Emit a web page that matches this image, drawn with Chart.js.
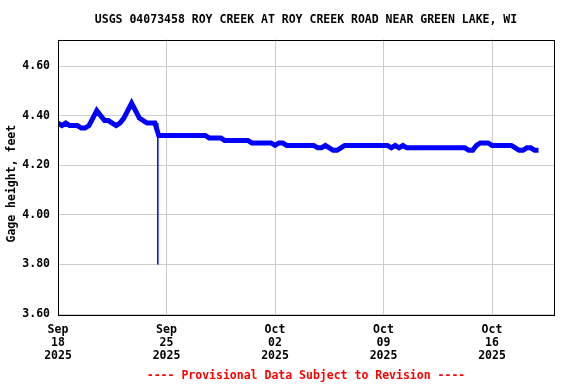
<!DOCTYPE html>
<html>
<head>
<meta charset="utf-8">
<script src="https://cdn.jsdelivr.net/npm/chart.js@4.4.1/dist/chart.umd.min.js"></script>
<style>
  body { margin: 0; background: #fff; }
</style>
</head>
<body>
<canvas id="gageChart" width="576" height="384"></canvas>
<script>
const chartTitle = 'USGS 04073458 ROY CREEK AT ROY CREEK ROAD NEAR GREEN LAKE, WI';
const footerText = '---- Provisional Data Subject to Revision ----';
const yAxisLabel = 'Gage height, feet  ';

// gage height, one reading every 6 hours starting Sep 18 2025 00:00
const stepDays = 0.25;
const gageHeight = [
  4.37, 4.36, 4.37, 4.36, 4.36, 4.36, 4.35, 4.35, 4.36, 4.39,
  4.42, 4.40, 4.38, 4.38, 4.37, 4.36, 4.37, 4.39, 4.42, 4.45,
  4.42, 4.39, 4.38, 4.37, 4.37, 4.37, 4.32, 4.32, 4.32, 4.32,
  4.32, 4.32, 4.32, 4.32, 4.32, 4.32, 4.32, 4.32, 4.32, 4.31,
  4.31, 4.31, 4.31, 4.30, 4.30, 4.30, 4.30, 4.30, 4.30, 4.30,
  4.29, 4.29, 4.29, 4.29, 4.29, 4.29, 4.28, 4.29, 4.29, 4.28,
  4.28, 4.28, 4.28, 4.28, 4.28, 4.28, 4.28, 4.27, 4.27, 4.28,
  4.27, 4.26, 4.26, 4.27, 4.28, 4.28, 4.28, 4.28, 4.28, 4.28,
  4.28, 4.28, 4.28, 4.28, 4.28, 4.28, 4.27, 4.28, 4.27, 4.28,
  4.27, 4.27, 4.27, 4.27, 4.27, 4.27, 4.27, 4.27, 4.27, 4.27,
  4.27, 4.27, 4.27, 4.27, 4.27, 4.27, 4.26, 4.26, 4.28, 4.29,
  4.29, 4.29, 4.28, 4.28, 4.28, 4.28, 4.28, 4.28, 4.27, 4.26,
  4.26, 4.27, 4.27, 4.26, 4.26
];

// the single low reading on Sep 24
const dropDays = [6.44, 6.44];
const dropLevels = [4.37, 3.80];

const xTickDays = [0, 7, 14, 21, 28];
const xTickLabels = [
  ['Sep', '18', '2025'],
  ['Sep', '25', '2025'],
  ['Oct', '02', '2025'],
  ['Oct', '09', '2025'],
  ['Oct', '16', '2025']
];
const yTicks = [3.6, 3.8, 4.0, 4.2, 4.4, 4.6];

const mono = 'DejaVu Sans Mono';

const mainPoints = gageHeight.map((v, i) => ({ x: i * stepDays, y: v }));
const dropPoints = dropDays.map((d, i) => ({ x: d, y: dropLevels[i] }));

// black frame round the plot area
const frame = {
  id: 'frame',
  afterDatasetsDraw(chart) {
    const { ctx, chartArea: a } = chart;
    ctx.save();
    ctx.strokeStyle = '#000';
    ctx.lineWidth = 1;
    ctx.strokeRect(Math.round(a.left) + 0.5, Math.round(a.top) + 0.5,
      Math.round(a.right - a.left), Math.round(a.bottom - a.top));
    ctx.restore();
  }
};

const ctx = document.getElementById('gageChart').getContext('2d');
new Chart(ctx, {
  type: 'line',
  data: {
    datasets: [
      {
        data: mainPoints,
        borderColor: '#0000ff',
        borderWidth: 5,
        pointRadius: 0,
        tension: 0,
        fill: false
      },
      {
        data: dropPoints,
        borderColor: '#0000ff',
        borderWidth: 1.5,
        pointRadius: 0,
        fill: false
      }
    ]
  },
  options: {
    responsive: false,
    animation: false,
    layout: { padding: { left: 0, right: 22, top: 0, bottom: 0 } },
    plugins: {
      legend: { display: false },
      tooltip: { enabled: false },
      title: {
        display: true,
        text: chartTitle,
        fullSize: false,
        color: '#000',
        font: { family: mono, weight: 'bold', size: 11.5 },
        padding: { top: 13, bottom: 12.7 }
      },
      subtitle: {
        display: true,
        text: footerText,
        position: 'bottom',
        fullSize: false,
        color: '#ff0000',
        font: { family: mono, weight: 'bold', size: 11.5 },
        padding: { top: 4, bottom: 1 }
      }
    },
    scales: {
      x: {
        type: 'linear',
        min: 0,
        max: 32,
        afterBuildTicks: (scale) => { scale.ticks = xTickDays.map(v => ({ value: v })); },
        afterFit: (scale) => { scale.height = 51.2; },
        grid: { color: '#cccccc', lineWidth: 1, drawTicks: false },
        border: { display: false },
        ticks: {
          color: '#000',
          padding: 9,
          maxRotation: 0,
          autoSkip: false,
          font: { family: mono, weight: 'bold', size: 11.5, lineHeight: 1.15 },
          callback: (v) => xTickLabels[xTickDays.indexOf(v)]
        }
      },
      y: {
        min: 3.6,
        max: 4.707,
        afterBuildTicks: (scale) => { scale.ticks = yTicks.map(v => ({ value: v })); },
        afterFit: (scale) => { scale.width = 58; },
        grid: { color: '#cccccc', lineWidth: 1, drawTicks: false },
        border: { display: false },
        title: {
          display: true,
          text: yAxisLabel,
          color: '#000',
          font: { family: mono, weight: 'bold', size: 11.5 },
          padding: { top: 5, bottom: 0 }
        },
        ticks: {
          color: '#000',
          padding: 8,
          font: { family: mono, weight: 'bold', size: 11.5 },
          callback: (v) => v.toFixed(2)
        }
      }
    }
  },
  plugins: [frame]
});
</script>
</body>
</html>
